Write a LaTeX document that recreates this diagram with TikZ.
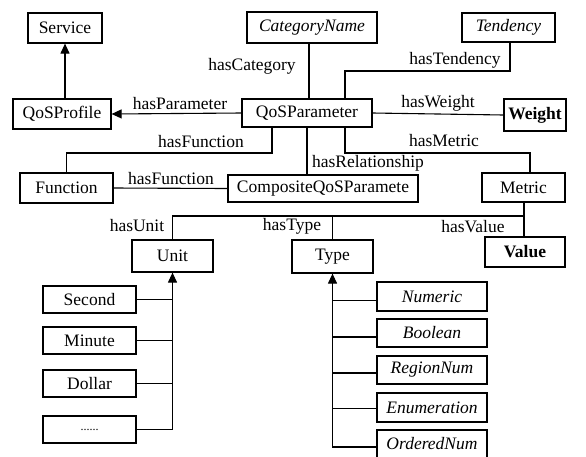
\documentclass[tikz,border=0pt]{standalone}
\usepackage{fontspec}
\setmainfont{Liberation Serif}
\usetikzlibrary{arrows.meta}
\begin{document}
\begin{tikzpicture}[x=1pt,y=-1pt,
  box/.style={draw,line width=1.2pt,inner sep=0pt,font=\fontsize{17.5}{19}\selectfont},
  lbl/.style={inner sep=0pt,font=\fontsize{17.5}{19}\selectfont},
  conn/.style={line width=1.1pt},
  arr/.style={line width=1.1pt,-{Triangle[length=10pt,width=9pt]}}]
\useasboundingbox[fill=white] (0,0) rectangle (586,456);
% nodes
\node[box,minimum width=74pt,minimum height=30pt] (service) at (65,28) {Service};
\node[box,minimum width=98pt,minimum height=30pt] (qosprofile) at (62,114) {QoSProfile};
\node[box,minimum width=130pt,minimum height=31pt] (catname) at (312,27.5) {\itshape CategoryName};
\node[box,minimum width=93pt,minimum height=29pt] (tendency) at (508.5,27.5) {\itshape Tendency};
\node[box,minimum width=130pt,minimum height=28pt] (qosparam) at (307,113) {QoSParameter};
\node[box,minimum width=62pt,minimum height=32pt] (weight) at (535,115) {\bfseries Weight};
\node[box,minimum width=93pt,minimum height=30pt] (function) at (66.5,188) {Function};
\node[box,minimum width=190pt,minimum height=27pt] (composite) at (323,188.5) {CompositeQoSParamete};
\node[box,minimum width=83pt,minimum height=29pt] (metric) at (523.5,187.5) {Metric};
\node[box,minimum width=81pt,minimum height=32pt] (unit) at (172.5,256) {Unit};
\node[box,minimum width=81pt,minimum height=33pt] (type) at (332.5,256.5) {Type};
\node[box,minimum width=80pt,minimum height=30pt] (value) at (525,252) {\bfseries Value};
\node[box,minimum width=93pt,minimum height=27pt] (second) at (89.5,299.5) {Second};
\node[box,minimum width=93pt,minimum height=27pt] (minute) at (89.5,340.5) {Minute};
\node[box,minimum width=93pt,minimum height=27pt] (dollar) at (89.5,383.5) {Dollar};
\node[box,minimum width=93pt,minimum height=27pt] (dots) at (89.5,429.5) {{\fontsize{12}{14}\selectfont ......}};
\node[box,minimum width=110pt,minimum height=29pt] (numeric) at (432,296.5) {\itshape Numeric};
\node[box,minimum width=110pt,minimum height=28pt] (boolean) at (432,333) {\itshape Boolean};
\node[box,minimum width=110pt,minimum height=28pt] (regionnum) at (432,370) {\itshape RegionNum};
\node[box,minimum width=110pt,minimum height=29pt] (enumeration) at (432,407.5) {\itshape Enumeration};
\node[box,minimum width=110pt,minimum height=28pt] (orderednum) at (432,444) {\itshape OrderedNum};
% labels
\node[lbl] (lcat) at (252,66) {hasCategory};
\node[lbl] (lpar) at (180,104) {hasParameter};
\node[lbl] (lfun1) at (201,142) {hasFunction};
\node[lbl] (lten) at (455,60) {hasTendency};
\node[lbl] (lwei) at (438,103) {hasWeight};
\node[lbl] (lmet) at (444,141) {hasMetric};
\node[lbl] (lrel) at (368,163) {hasRelationship};
\node[lbl] (lfun2) at (171,179) {hasFunction};
\node[lbl] (luni) at (137,226) {hasUnit};
\node[lbl] (ltyp) at (292,226) {hasType};
\node[lbl] (lval) at (473,227) {hasValue};
% coordinates
\coordinate (tj) at (345,71);
\coordinate (fj) at (272,153);
\coordinate (mj) at (345,153);
\coordinate (mk) at (530,153);
\coordinate (bj) at (524,216);
% connectors
\draw[arr] (qosprofile.north -| service.south) -- (service.south);
\draw[arr] (qosparam.west) -- (qosprofile.east);
\draw[conn] (catname.south -| 309,0) -- (qosparam.north -| 309,0);
\draw[conn] (tendency.south -| 510,0) |- (tj) -- (tj |- qosparam.north);
\draw[conn] (qosparam.east) -- (weight.west);
\draw[conn] (fj |- qosparam.south) -- (fj) -| (function.north);
\draw[conn] (qosparam.south) -- (qosparam.south |- composite.north);
\draw[conn] (mj |- qosparam.south) -- (mj) -- (mk) -- (mk |- metric.north);
\draw[conn] (function.east) -- (composite.west);
\draw[conn] (metric.south -| bj) -- (value.north -| bj);
\draw[conn] (bj) -| (unit.north);
\draw[conn] (type.north |- bj) -- (type.north);
% unit children
\draw[arr] (dots.east) -| (unit.south);
\draw[conn] (second.east) -- (second.east -| unit.south);
\draw[conn] (minute.east) -- (minute.east -| unit.south);
\draw[conn] (dollar.east) -- (dollar.east -| unit.south);
% type children
\draw[arr] ([yshift=-3pt]orderednum.west) -| (type.south);
\draw[conn] ([yshift=-4pt]numeric.west) -- ([yshift=-4pt]numeric.west -| type.south);
\draw[conn] ([yshift=-4pt]boolean.west) -- ([yshift=-4pt]boolean.west -| type.south);
\draw[conn] ([yshift=-3pt]regionnum.west) -- ([yshift=-3pt]regionnum.west -| type.south);
\draw[conn] ([yshift=-1pt]enumeration.west) -- ([yshift=-1pt]enumeration.west -| type.south);
\end{tikzpicture}
\end{document}
